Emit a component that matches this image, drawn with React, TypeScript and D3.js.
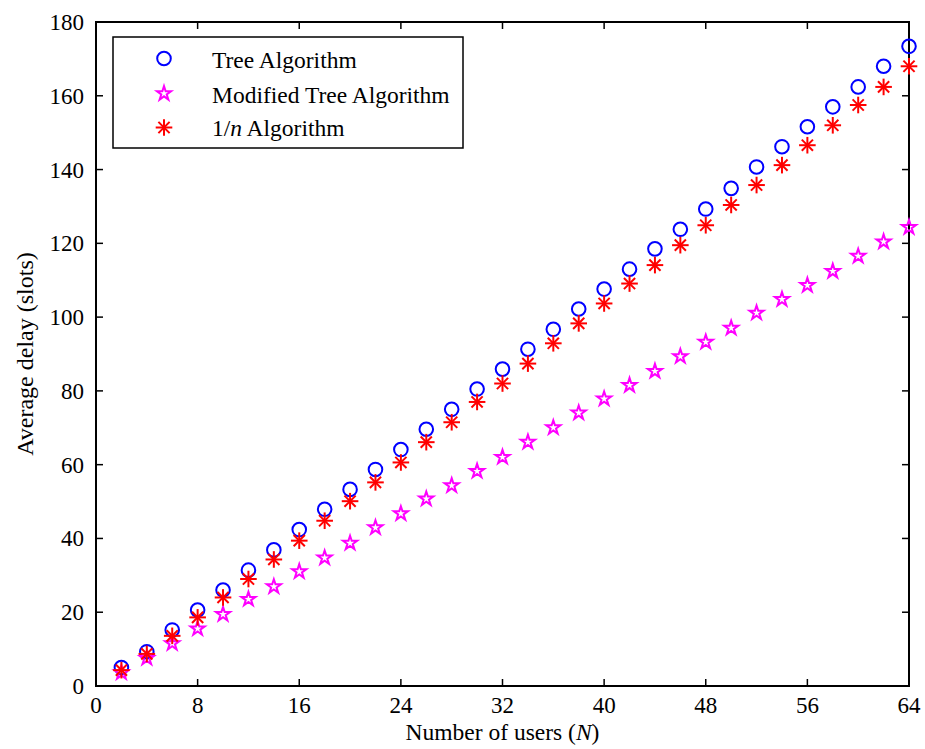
import React from "react";
import * as d3 from "d3";

const users = [2, 4, 6, 8, 10, 12, 14, 16, 18, 20, 22, 24, 26, 28, 30, 32, 34, 36, 38, 40, 42, 44, 46, 48, 50, 52, 54, 56, 58, 60, 62, 64];
const treeDelay = [5.0, 9.3, 15.2, 20.6, 26.0, 31.4, 36.9, 42.4, 47.9, 53.3, 58.7, 64.1, 69.6, 75.0, 80.5, 85.9, 91.3, 96.7, 102.2, 107.6, 113.0, 118.5, 123.8, 129.3, 134.9, 140.7, 146.2, 151.6, 157.0, 162.4, 168.0, 173.4];
const modifiedDelay = [3.9, 7.8, 11.8, 15.8, 19.7, 23.8, 27.2, 31.3, 35.0, 39.0, 43.2, 47.0, 51.0, 54.6, 58.5, 62.3, 66.4, 70.3, 74.3, 78.1, 81.8, 85.6, 89.6, 93.5, 97.3, 101.4, 105.1, 108.9, 112.7, 116.8, 120.7, 124.6];
const oneOverNDelay = [4.3, 8.7, 13.6, 18.6, 24.0, 29.0, 34.3, 39.4, 44.8, 50.1, 55.2, 60.6, 66.1, 71.5, 77.0, 82.0, 87.4, 92.9, 98.3, 103.7, 109.1, 114.1, 119.5, 124.9, 130.4, 135.8, 141.2, 146.6, 152.0, 157.5, 162.4, 168.0];
const xTicks = [0, 8, 16, 24, 32, 40, 48, 56, 64];
const yTicks = [0, 20, 40, 60, 80, 100, 120, 140, 160, 180];
const legendLabels = ["Tree Algorithm", "Modified Tree Algorithm", "1/n Algorithm"];

const FONT = "'Liberation Serif', 'Times New Roman', serif";
const BLUE = "#0000ff";
const MAGENTA = "#ff00ff";
const RED = "#ff0000";

const starPath = d3.symbol().type(d3.symbolStar).size(62)() as string;

function Circle({ x, y }: { x: number; y: number }) {
  return <circle cx={x} cy={y} r={6.8} fill="none" stroke={BLUE} strokeWidth={2} />;
}
function Star({ x, y }: { x: number; y: number }) {
  return (
    <path d={starPath} transform={`translate(${x},${y + 1})`} fill="none" stroke={MAGENTA} strokeWidth={2} strokeLinejoin="miter" />
  );
}
function Asterisk({ x, y }: { x: number; y: number }) {
  const a = 8.3;
  const b = 5.6;
  return (
    <g transform={`translate(${x},${y})`} stroke={RED} strokeWidth={2}>
      <line x1={-a} y1={0} x2={a} y2={0} />
      <line x1={0} y1={-a} x2={0} y2={a} />
      <line x1={-b} y1={-b} x2={b} y2={b} />
      <line x1={-b} y1={b} x2={b} y2={-b} />
    </g>
  );
}

export default function App() {
  const W = 925;
  const H = 749;
  const left = 96;
  const right = 909;
  const top = 22;
  const bottom = 686;
  const x = d3.scaleLinear().domain([0, 64]).range([left, right]);
  const y = d3.scaleLinear().domain([0, 180]).range([bottom, top]);
  const tickLen = 7;

  return (
    <svg width={W} height={H} style={{ position: "absolute", left: 0, top: 0, background: "#fff" }} fontFamily={FONT}>
      <rect x={0} y={0} width={W} height={H} fill="#fff" />
      {/* ticks */}
      <g stroke="#000" strokeWidth={1.5}>
        {xTicks.map((t) => (
          <g key={"xt" + t}>
            <line x1={x(t)} x2={x(t)} y1={bottom} y2={bottom - tickLen} />
            <line x1={x(t)} x2={x(t)} y1={top} y2={top + tickLen} />
          </g>
        ))}
        {yTicks.map((t) => (
          <g key={"yt" + t}>
            <line x1={left} x2={left + tickLen} y1={y(t)} y2={y(t)} />
            <line x1={right} x2={right - tickLen} y1={y(t)} y2={y(t)} />
          </g>
        ))}
      </g>
      <rect x={left} y={top} width={right - left} height={bottom - top} fill="none" stroke="#000" strokeWidth={2} />
      {/* tick labels */}
      <g fontSize={23} fill="#000">
        {xTicks.map((t) => (
          <text key={"xl" + t} x={x(t)} y={713} textAnchor="middle">{t}</text>
        ))}
        {yTicks.map((t) => (
          <text key={"yl" + t} x={84} y={y(t)} dy="0.35em" textAnchor="end">{t}</text>
        ))}
      </g>
      {/* axis titles */}
      <text x={(left + right) / 2} y={740} textAnchor="middle" fontSize={23.5}>
        Number of users (<tspan fontStyle="italic">N</tspan>)
      </text>
      <text transform={`translate(33,${(top + bottom) / 2}) rotate(-90)`} textAnchor="middle" fontSize={24}>
        Average delay (slots)
      </text>
      {/* data */}
      <g>
        {users.map((u, i) => (
          <Circle key={"c" + i} x={x(u)} y={y(treeDelay[i])} />
        ))}
        {users.map((u, i) => (
          <Star key={"s" + i} x={x(u)} y={y(modifiedDelay[i])} />
        ))}
        {users.map((u, i) => (
          <Asterisk key={"a" + i} x={x(u)} y={y(oneOverNDelay[i])} />
        ))}
      </g>
      {/* legend */}
      <rect x={113} y={37} width={350} height={111} fill="#fff" stroke="#000" strokeWidth={1.5} />
      <Circle x={164} y={58.5} />
      <Star x={164} y={92.5} />
      <Asterisk x={164} y={127.5} />
      <g fontSize={23.5} fill="#000">
        <text x={212} y={68}>{legendLabels[0]}</text>
        <text x={212} y={102.5}>{legendLabels[1]}</text>
        <text x={212} y={135.5}>
          1/<tspan fontStyle="italic">n</tspan> Algorithm
        </text>
      </g>
    </svg>
  );
}
